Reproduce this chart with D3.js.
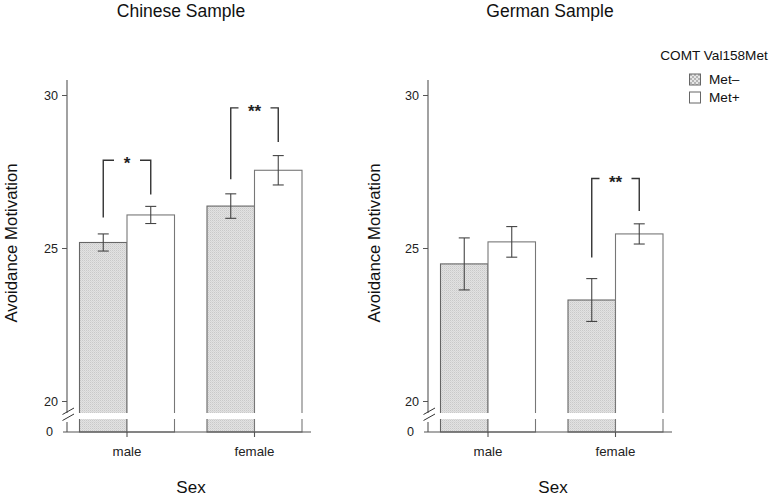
<!DOCTYPE html>
<html>
<head>
<meta charset="utf-8">
<script src="https://cdn.jsdelivr.net/npm/d3@7"></script>
<style>
  html, body { margin: 0; padding: 0; background: #fff; }
  svg { display: block; font-family: "Liberation Sans", Arial, Helvetica, sans-serif; }
</style>
</head>
<body>
<svg id="chart" width="773" height="498"></svg>
<script>
// ---- data ----
const categories = ["male", "female"];
const seriesNames = ["Met–", "Met+"];
const yTickValues = [20, 25, 30];
const panelTitles = ["Chinese Sample", "German Sample"];

const chineseMetMinus = [25.18, 26.37];
const chineseMetPlus = [26.08, 27.54];
const chineseMetMinusSE = [0.28, 0.40];
const chineseMetPlusSE = [0.28, 0.48];

const germanMetMinus = [24.48, 23.30];
const germanMetPlus = [25.20, 25.46];
const germanMetMinusSE = [0.85, 0.70];
const germanMetPlusSE = [0.50, 0.33];

// significance brackets: category, label, bracket level, left leg end, right leg end (data units)
const chineseSig = [
  { cat: "male", label: "*", top: 27.87, leftEnd: 26.00, rightEnd: 26.75 },
  { cat: "female", label: "**", top: 29.58, leftEnd: 27.25, rightEnd: 28.46 }
];
const germanSig = [
  { cat: "female", label: "**", top: 27.27, leftEnd: 24.69, rightEnd: 26.21 }
];

// ---- drawing ----
const svg = d3.select("#chart");
const defs = svg.append("defs");
const pat = defs.append("pattern").attr("id", "stipple")
  .attr("patternUnits", "userSpaceOnUse").attr("width", 2).attr("height", 2);
pat.append("rect").attr("width", 2).attr("height", 2).attr("fill", "#e2e2e2");
pat.append("rect").attr("width", 1).attr("height", 1).attr("fill", "#c9c9c9");
pat.append("rect").attr("x", 1).attr("y", 1).attr("width", 1).attr("height", 1).attr("fill", "#d6d6d6");

const pat2 = defs.append("pattern").attr("id", "stippleLegend")
  .attr("patternUnits", "userSpaceOnUse").attr("width", 4).attr("height", 4);
pat2.append("rect").attr("width", 4).attr("height", 4).attr("fill", "#e6e6e6");
pat2.append("rect").attr("width", 2).attr("height", 2).attr("fill", "#b5b5b5");
pat2.append("rect").attr("x", 2).attr("y", 2).attr("width", 2).attr("height", 2).attr("fill", "#b5b5b5");

const y = d3.scaleLinear().domain([20, 30]).range([401, 95]);
const baseY = 432;
const axisTopVal = 30.49;
const breakTop = 413, breakBot = 419;
const barW = 47.5;
const axisColor = "#555";

const panels = [
  { axisX: 67, title: panelTitles[0], minus: chineseMetMinus, plus: chineseMetPlus,
    minusSE: chineseMetMinusSE, plusSE: chineseMetPlusSE, sig: chineseSig, titleX: 181, labelX: 17, sexX: 191 },
  { axisX: 428, title: panelTitles[1], minus: germanMetMinus, plus: germanMetPlus,
    minusSE: germanMetMinusSE, plusSE: germanMetPlusSE, sig: germanSig, titleX: 550, labelX: 380, sexX: 553 }
];

panels.forEach(p => {
  const g = svg.append("g");
  const x = d3.scalePoint().domain(categories).range([p.axisX + 60, p.axisX + 187.5]);

  // title
  g.append("text").attr("x", p.titleX).attr("y", 17).attr("text-anchor", "middle")
    .attr("font-size", 17.5).attr("fill", "#111").text(p.title);

  // y label
  g.append("text").attr("transform", `translate(${p.labelX},243) rotate(-90)`)
    .attr("text-anchor", "middle").attr("font-size", 16.8).attr("fill", "#111")
    .text("Avoidance Motivation");

  // x label
  g.append("text").attr("x", p.sexX).attr("y", 493).attr("text-anchor", "middle")
    .attr("font-size", 17).attr("fill", "#111").text("Sex");

  // bars
  const rows = [];
  categories.forEach((c, i) => {
    rows.push({ cat: c, s: 0, v: p.minus[i], se: p.minusSE[i], cx: x(c) - barW / 2 });
    rows.push({ cat: c, s: 1, v: p.plus[i], se: p.plusSE[i], cx: x(c) + barW / 2 });
  });

  g.selectAll("rect.bar").data(rows).enter().append("rect").attr("class", "bar")
    .attr("x", d => d.cx - barW / 2).attr("y", d => y(d.v))
    .attr("width", barW).attr("height", d => baseY - y(d.v))
    .attr("fill", d => d.s === 0 ? "url(#stipple)" : "#fff")
    .attr("stroke", d => d.s === 0 ? "#666" : "#777").attr("stroke-width", 1.1);

  // break gap
  g.append("rect").attr("x", p.axisX + 4).attr("y", breakTop)
    .attr("width", 245).attr("height", breakBot - breakTop).attr("fill", "#fff");

  // error bars
  const eb = g.selectAll("g.err").data(rows).enter().append("g").attr("class", "err")
    .attr("stroke", "#444").attr("stroke-width", 1.1);
  eb.append("line").attr("x1", d => d.cx).attr("x2", d => d.cx)
    .attr("y1", d => y(d.v + d.se)).attr("y2", d => y(d.v - d.se));
  eb.append("line").attr("x1", d => d.cx - 5.5).attr("x2", d => d.cx + 5.5)
    .attr("y1", d => y(d.v + d.se)).attr("y2", d => y(d.v + d.se));
  eb.append("line").attr("x1", d => d.cx - 5.5).attr("x2", d => d.cx + 5.5)
    .attr("y1", d => y(d.v - d.se)).attr("y2", d => y(d.v - d.se));

  // y axis (upper part)
  const axisG = g.append("g").attr("transform", `translate(${p.axisX},0)`);
  const ya = d3.scaleLinear().domain([20, axisTopVal]).range([y(20), y(axisTopVal)]);
  axisG.call(d3.axisLeft(ya).tickValues(yTickValues).tickSize(5).tickSizeOuter(0).tickFormat(d3.format("d")));
  axisG.select(".domain").attr("d", `M0,${y(axisTopVal)}V${breakTop}`).attr("stroke", axisColor).attr("stroke-width", 1.1);
  axisG.selectAll(".tick line").attr("stroke", axisColor);
  axisG.selectAll(".tick text").attr("font-size", 12.6).attr("fill", "#222")
    .attr("font-family", "Liberation Sans, Arial, sans-serif").attr("x", -9);

  // lower part of y axis and zero label
  g.append("line").attr("x1", p.axisX).attr("x2", p.axisX).attr("y1", breakBot + 3).attr("y2", baseY)
    .attr("stroke", axisColor).attr("stroke-width", 1.1);
  g.append("text").attr("x", p.axisX - 14).attr("y", baseY).attr("dy", "0.32em")
    .attr("text-anchor", "end").attr("font-size", 12.6).attr("fill", "#222").text("0");

  // break marks
  [0, 6].forEach(off => {
    g.append("line").attr("x1", p.axisX - 4.5).attr("y1", 417.5 + off - 3)
      .attr("x2", p.axisX + 7).attr("y2", 411 + off - 3)
      .attr("stroke", "#333").attr("stroke-width", 1);
  });

  // x axis
  g.append("line").attr("x1", p.axisX - 4).attr("x2", p.axisX + 244)
    .attr("y1", baseY).attr("y2", baseY).attr("stroke", axisColor).attr("stroke-width", 1.1);
  categories.forEach(c => {
    g.append("line").attr("x1", x(c)).attr("x2", x(c)).attr("y1", baseY).attr("y2", baseY + 5)
      .attr("stroke", axisColor).attr("stroke-width", 1.1);
    g.append("text").attr("x", x(c)).attr("y", 456).attr("text-anchor", "middle")
      .attr("font-size", 13.3).attr("fill", "#222").text(c);
  });

  // significance brackets
  p.sig.forEach(s => {
    const xl = x(s.cat) - barW / 2, xr = x(s.cat) + barW / 2;
    const yt = y(s.top);
    const gap = s.label.length === 1 ? 13 : 16;
    const cx = x(s.cat);
    const path = d3.path();
    path.moveTo(xl, y(s.leftEnd)); path.lineTo(xl, yt); path.lineTo(cx - gap, yt);
    path.moveTo(cx + gap, yt); path.lineTo(xr, yt); path.lineTo(xr, y(s.rightEnd));
    g.append("path").attr("d", path.toString()).attr("fill", "none")
      .attr("stroke", "#333").attr("stroke-width", 1.4);
    g.append("text").attr("x", cx).attr("y", yt + 9).attr("text-anchor", "middle")
      .attr("font-size", 17).attr("font-weight", "bold").attr("fill", "#222").text(s.label);
  });
});

// legend
const leg = svg.append("g");
leg.append("text").attr("x", 714).attr("y", 60).attr("text-anchor", "middle")
  .attr("font-size", 13.6).attr("fill", "#111").text("COMT Val158Met");
seriesNames.forEach((n, i) => {
  const yy = 74 + i * 18;
  leg.append("rect").attr("x", 689.5).attr("y", yy).attr("width", 11).attr("height", 11)
    .attr("fill", i === 0 ? "url(#stippleLegend)" : "#fff").attr("stroke", "#666").attr("stroke-width", 1);
  leg.append("text").attr("x", 709).attr("y", yy + 5.5).attr("dy", "0.35em")
    .attr("font-size", 13.6).attr("fill", "#111").text(n);
});
</script>
</body>
</html>
